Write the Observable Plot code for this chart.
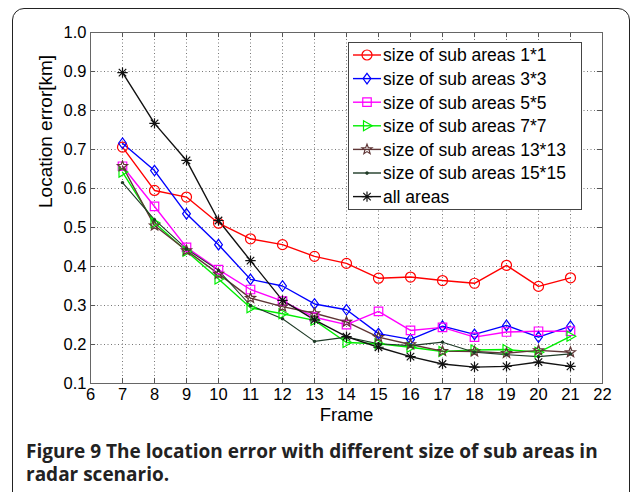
<!DOCTYPE html>
<html>
<head>
<meta charset="utf-8">
<script src="https://cdn.jsdelivr.net/npm/d3@7"></script>
<script src="https://cdn.jsdelivr.net/npm/@observablehq/plot@0.6"></script>
<style>
  html, body { margin: 0; padding: 0; background: #fff; }
  #wrap { position: relative; width: 634px; height: 492px; overflow: hidden; }
  #border { position: absolute; left: 12px; top: 8px; width: 618px; height: 600px;
            border: 1.6px solid #222; border-radius: 12px; box-sizing: border-box; }
  #chart { position: absolute; left: 0; top: 0; }
  #legend { position: absolute; left: 0; top: 0; pointer-events: none; }
  #caption { position: absolute; left: 26px; top: 440px; width: 592px; margin: 0;
             font-family: "Open Sans", "Noto Sans", sans-serif; font-weight: 700;
             font-size: 19px; line-height: 23px; color: #222; }
</style>
</head>
<body>
<div id="wrap">
  <div id="border"></div>
  <div id="chart"></div>
  <svg id="legend" width="634" height="430"></svg>
  <p id="caption">Figure 9 The location error with different size of sub areas in radar scenario.</p>
</div>
<script>
// ---- data ----
const frames = [7, 8, 9, 10, 11, 12, 13, 14, 15, 16, 17, 18, 19, 20, 21];
const xTicks = [6, 7, 8, 9, 10, 11, 12, 13, 14, 15, 16, 17, 18, 19, 20, 21, 22];
const yTicks = [0.1, 0.2, 0.3, 0.4, 0.5, 0.6, 0.7, 0.8, 0.9, 1.0];
const seriesNames = ["size of sub areas 1*1", "size of sub areas 3*3", "size of sub areas 5*5",
  "size of sub areas 7*7", "size of sub areas 13*13", "size of sub areas 15*15", "all areas"];
const sub1 = [0.706, 0.595, 0.578, 0.511, 0.471, 0.456, 0.426, 0.408, 0.370, 0.373, 0.364, 0.357, 0.403, 0.349, 0.371];
const sub3 = [0.716, 0.646, 0.535, 0.456, 0.367, 0.350, 0.304, 0.289, 0.228, 0.213, 0.247, 0.226, 0.249, 0.219, 0.247];
const sub5 = [0.657, 0.554, 0.449, 0.392, 0.341, 0.311, 0.270, 0.251, 0.285, 0.236, 0.244, 0.219, 0.232, 0.234, 0.234];
const sub7 = [0.642, 0.512, 0.439, 0.368, 0.294, 0.279, 0.262, 0.205, 0.202, 0.193, 0.182, 0.186, 0.187, 0.180, 0.221];
const sub13 = [0.657, 0.505, 0.441, 0.381, 0.319, 0.297, 0.280, 0.258, 0.219, 0.200, 0.183, 0.182, 0.178, 0.185, 0.180];
const sub15 = [0.615, 0.520, 0.445, 0.390, 0.300, 0.266, 0.208, 0.219, 0.202, 0.197, 0.206, 0.180, 0.174, 0.169, 0.176];
const allAreas = [0.897, 0.767, 0.672, 0.518, 0.415, 0.313, 0.263, 0.220, 0.193, 0.169, 0.150, 0.142, 0.144, 0.155, 0.144];
const seriesValues = [sub1, sub3, sub5, sub7, sub13, sub15, allAreas];

// ---- custom symbols ----
const rOf = size => Math.sqrt(size / Math.PI);
const symDiamond = { draw(c, s) { const r = rOf(s); c.moveTo(0, -r * 1.15); c.lineTo(r * 0.85, 0); c.lineTo(0, r * 1.15); c.lineTo(-r * 0.85, 0); c.closePath(); } };
const symSquare = { draw(c, s) { const r = rOf(s) * 0.85; c.moveTo(-r, -r); c.lineTo(r, -r); c.lineTo(r, r); c.lineTo(-r, r); c.closePath(); } };
const symTriRight = { draw(c, s) { const r = rOf(s); c.moveTo(r * 1.05, 0); c.lineTo(-r * 0.7, -r); c.lineTo(-r * 0.7, r); c.closePath(); } };
const symAsterisk = { draw(c, s) { const r = rOf(s); const d = r * 0.72;
  c.moveTo(-r, 0); c.lineTo(r, 0); c.moveTo(0, -r); c.lineTo(0, r);
  c.moveTo(-d, -d); c.lineTo(d, d); c.moveTo(-d, d); c.lineTo(d, -d); } };
const symStar = { draw(c, s) { const R = rOf(s) * 1.15, ri = R * 0.42;
  for (let i = 0; i < 10; i++) { const a = -Math.PI / 2 + i * Math.PI / 5; const rr = i % 2 ? ri : R;
    const x = rr * Math.cos(a), y = rr * Math.sin(a); i ? c.lineTo(x, y) : c.moveTo(x, y); } c.closePath(); } };
const symDot = { draw(c, s) { const r = 1.1; c.moveTo(r, 0); c.arc(0, 0, r, 0, 2 * Math.PI); } };
const symCircle = { draw(c, s) { const r = rOf(s); c.moveTo(r, 0); c.arc(0, 0, r, 0, 2 * Math.PI); } };

const styles = [
  { color: "#ff0000", symbol: symCircle, r: 5, fill: "none" },
  { color: "#0000ff", symbol: symDiamond, r: 4.6, fill: "none" },
  { color: "#ff00ff", symbol: symSquare, r: 5, fill: "none" },
  { color: "#00ee00", symbol: symTriRight, r: 5, fill: "none" },
  { color: "#5e3535", symbol: symStar, r: 4.6, fill: "none" },
  { color: "#1e3a26", symbol: symDot, r: 2, fill: "#1e3a26" },
  { color: "#111111", symbol: symAsterisk, r: 5.2, fill: "none" }
];

const rows = seriesValues.map((vals, i) => frames.map((f, j) => ({ frame: f, value: vals[j], series: seriesNames[i] })));

const marks = [
  Plot.gridX(xTicks, { stroke: "#777", strokeOpacity: 1, strokeWidth: 1, strokeDasharray: "1,2.5" }),
  Plot.gridY(yTicks, { stroke: "#777", strokeOpacity: 1, strokeWidth: 1, strokeDasharray: "1,2.5" }),
  Plot.axisX(xTicks, { tickSize: 0, tickPadding: 5, label: null, fontSize: 16.5 }),
  Plot.axisY(yTicks, { tickSize: 0, tickPadding: 4, label: null, tickFormat: d3.format(".1f"), fontSize: 16.5 }),
  // inward tick marks (MATLAB style) on all four sides
  Plot.ruleX(xTicks, { x: d => d, y1: 0.1, y2: 0.113, stroke: "#555" }),
  Plot.ruleX(xTicks, { x: d => d, y1: 1.0, y2: 0.987, stroke: "#555" }),
  Plot.ruleY(yTicks, { y: d => d, x1: 6, x2: 6.16, stroke: "#555" }),
  Plot.ruleY(yTicks, { y: d => d, x1: 22, x2: 21.84, stroke: "#555" }),
  Plot.frame({ stroke: "#666", strokeWidth: 1 }),
  Plot.text(["Frame"], { frameAnchor: "bottom", dy: 37, fontSize: 18.5, fill: "black" }),
  Plot.text(["Location error[km]"], { frameAnchor: "left", dx: -45, rotate: -90, fontSize: 19, fill: "black" })
];
rows.forEach((data, i) => {
  const st = styles[i];
  marks.push(Plot.line(data, { x: "frame", y: "value", stroke: st.color, strokeWidth: i === 5 ? 1.1 : 1.4 }));
});
rows.forEach((data, i) => {
  const st = styles[i];
  marks.push(Plot.dot(data, { x: "frame", y: "value", symbol: st.symbol, r: st.r, stroke: st.color, fill: st.fill, strokeWidth: 1.2 }));
});

const chart = Plot.plot({
  width: 634, height: 430,
  marginLeft: 90, marginRight: 32, marginTop: 32, marginBottom: 47,
  x: { domain: [6, 22] },
  y: { domain: [0.1, 1.0] },
  style: { fontFamily: "'Liberation Sans', Arial, sans-serif", fontSize: "16.5px", color: "black", background: "transparent", overflow: "visible" },
  marks
});
document.getElementById("chart").appendChild(chart);

// ---- legend overlay ----
const lg = d3.select("#legend");
const lx = 348, ly = 42, lw = 233, lh = 167, step = 23.6;
lg.append("rect").attr("x", lx + 0.5).attr("y", ly + 0.5).attr("width", lw).attr("height", lh)
  .attr("fill", "white").attr("stroke", "#444").attr("stroke-width", 1);
seriesNames.forEach((name, i) => {
  const st = styles[i];
  const cy = ly + 13 + i * step;
  lg.append("line").attr("x1", lx + 5).attr("x2", lx + 33).attr("y1", cy).attr("y2", cy)
    .attr("stroke", st.color).attr("stroke-width", 1.4);
  lg.append("path").attr("transform", `translate(${lx + 19},${cy})`)
    .attr("d", d3.symbol().type(st.symbol).size(Math.PI * st.r * st.r)())
    .attr("stroke", st.color).attr("fill", st.fill).attr("stroke-width", 1.2);
  lg.append("text").attr("x", lx + 35).attr("y", cy).attr("dy", "0.36em")
    .attr("font-family", "'Liberation Sans', Arial, sans-serif").attr("font-size", 17.5)
    .attr("fill", "black").text(name);
});
</script>
</body>
</html>
